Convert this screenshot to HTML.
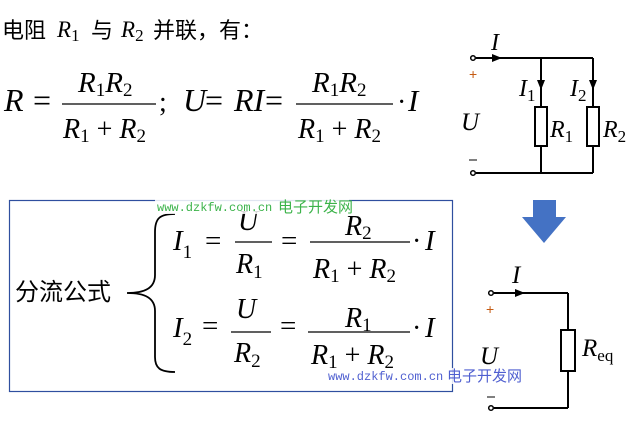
<!DOCTYPE html>
<html><head><meta charset="utf-8"><style>
html,body{margin:0;padding:0;background:#fff;width:633px;height:421px;overflow:hidden}
svg{display:block}
.s{font-family:"Liberation Serif",serif;font-style:italic;fill:#000}
.n{font-family:"Liberation Serif",serif;fill:#000}
.c{font-family:"Noto Sans CJK SC",sans-serif;fill:#000}
</style></head><body>
<svg width="633" height="421" viewBox="0 0 633 421" xmlns="http://www.w3.org/2000/svg">
<!-- title -->
<text class="c" x="2" y="38" font-size="22">电阻</text>
<text class="s" x="57" y="37" font-size="23">R<tspan class="n" font-style="normal" font-size="17" dy="4">1</tspan></text>
<text class="c" x="91" y="38" font-size="22">与</text>
<text class="s" x="121" y="37" font-size="23">R<tspan class="n" font-style="normal" font-size="17" dy="4">2</tspan></text>
<text class="c" x="153" y="38" font-size="22">并联，有：</text>

<!-- formula line 1 -->
<text class="s" x="4" y="111" font-size="32">R</text>
<text class="n" x="33" y="111" font-size="32">=</text>
<line x1="62" y1="104" x2="156" y2="104" stroke="#000" stroke-width="1.3"/>
<text class="s" x="78" y="92" font-size="29">R<tspan class="n" font-style="normal" font-size="19" dy="4">1</tspan><tspan dy="-4">R</tspan><tspan class="n" font-style="normal" font-size="19" dy="4">2</tspan></text>
<text class="s" x="63" y="138" font-size="28">R<tspan class="n" font-style="normal" font-size="19" dy="4">1</tspan><tspan class="n" font-style="normal" dy="-4"> + </tspan>R<tspan class="n" font-style="normal" font-size="19" dy="4">2</tspan></text>
<text class="n" x="159" y="111" font-size="28">;</text>
<text class="s" x="183" y="111" font-size="32">U</text>
<text class="n" x="205" y="111" font-size="32">=</text>
<text class="s" x="234" y="111" font-size="32">RI</text>
<text class="n" x="265" y="111" font-size="32">=</text>
<line x1="296" y1="104" x2="393" y2="104" stroke="#000" stroke-width="1.3"/>
<text class="s" x="312" y="92" font-size="29">R<tspan class="n" font-style="normal" font-size="19" dy="4">1</tspan><tspan dy="-4">R</tspan><tspan class="n" font-style="normal" font-size="19" dy="4">2</tspan></text>
<text class="s" x="298" y="138" font-size="28">R<tspan class="n" font-style="normal" font-size="19" dy="4">1</tspan><tspan class="n" font-style="normal" dy="-4"> + </tspan>R<tspan class="n" font-style="normal" font-size="19" dy="4">2</tspan></text>
<text class="n" x="397" y="111" font-size="28">·</text>
<text class="s" x="408" y="111" font-size="31">I</text>

<!-- top circuit -->
<g stroke="#000" stroke-width="2" fill="none">
<line x1="476" y1="58" x2="593" y2="58"/>
<line x1="541" y1="58" x2="541" y2="107"/>
<line x1="593" y1="58" x2="593" y2="107"/>
<rect x="535" y="107" width="12" height="39"/>
<rect x="587" y="107" width="12" height="39"/>
<line x1="541" y1="146" x2="541" y2="173"/>
<line x1="593" y1="146" x2="593" y2="173"/>
<line x1="476" y1="173" x2="593" y2="173"/>
<circle cx="473" cy="58" r="2.3" stroke-width="1.5"/>
<circle cx="473" cy="173" r="2.3" stroke-width="1.5"/>
</g>
<polygon points="492,54 502,58 492,62" fill="#000"/>
<polygon points="537,80 541,90 545,80" fill="#000"/>
<polygon points="589,80 593,90 597,80" fill="#000"/>
<text class="s" x="491" y="50" font-size="24">I</text>
<text class="s" x="519" y="96" font-size="24">I<tspan class="n" font-style="normal" font-size="17" dy="5">1</tspan></text>
<text class="s" x="570" y="96" font-size="24">I<tspan class="n" font-style="normal" font-size="17" dy="5">2</tspan></text>
<text class="s" x="550" y="137" font-size="24">R<tspan class="n" font-style="normal" font-size="17" dy="5">1</tspan></text>
<text class="s" x="603" y="137" font-size="24">R<tspan class="n" font-style="normal" font-size="17" dy="5">2</tspan></text>
<text x="469" y="79" font-size="14" fill="#c55a11" font-family="Liberation Sans,sans-serif">+</text>
<text class="s" x="461" y="130" font-size="25">U</text>
<line x1="469" y1="160" x2="477" y2="160" stroke="#000" stroke-width="1"/>

<!-- blue arrow -->
<polygon points="533,200 556,200 556,217 566,217 544,243 522,217 533,217" fill="#4472c4"/>

<!-- bottom circuit -->
<g stroke="#000" stroke-width="2" fill="none">
<line x1="494" y1="293" x2="568" y2="293"/>
<line x1="568" y1="293" x2="568" y2="330"/>
<rect x="561" y="330" width="14" height="41"/>
<line x1="568" y1="371" x2="568" y2="408"/>
<line x1="494" y1="408" x2="568" y2="408"/>
<circle cx="491" cy="293" r="2.3" stroke-width="1.5"/>
<circle cx="491" cy="408" r="2.3" stroke-width="1.5"/>
</g>
<polygon points="515,289 525,293 515,297" fill="#000"/>
<text class="s" x="512" y="283" font-size="25">I</text>
<text x="486" y="314" font-size="14" fill="#c55a11" font-family="Liberation Sans,sans-serif">+</text>
<text class="s" x="480" y="364" font-size="25">U</text>
<line x1="487" y1="397" x2="495" y2="397" stroke="#000" stroke-width="1"/>
<text class="s" x="582" y="356" font-size="25">R<tspan class="n" font-style="normal" font-size="17" dy="5">eq</tspan></text>

<!-- box -->
<rect x="9.5" y="200.5" width="443" height="191" fill="none" stroke="#2f4f9f" stroke-width="1.2"/>
<text class="c" x="15" y="300" font-size="24">分流公式</text>
<path d="M175,214 C160,214 155,218 155,232 L155,275 C155,288 145,293 127,293 C145,293 155,298 155,311 L155,357 C155,368 160,372 175,372" fill="none" stroke="#000" stroke-width="1.8"/>

<!-- row 1 -->
<text class="s" x="173" y="250" font-size="29">I<tspan class="n" font-style="normal" font-size="19" dy="8">1</tspan></text>
<text class="n" x="205" y="250" font-size="29">=</text>
<line x1="235" y1="242" x2="272" y2="242" stroke="#000" stroke-width="1.3"/>
<text class="s" x="238" y="230" font-size="28">U</text>
<text class="s" x="236" y="273" font-size="28">R<tspan class="n" font-style="normal" font-size="19" dy="5">1</tspan></text>
<text class="n" x="281" y="250" font-size="29">=</text>
<line x1="310" y1="242" x2="410" y2="242" stroke="#000" stroke-width="1.3"/>
<text class="s" x="345" y="235" font-size="28">R<tspan class="n" font-style="normal" font-size="19" dy="4">2</tspan></text>
<text class="s" x="313" y="278" font-size="28">R<tspan class="n" font-style="normal" font-size="19" dy="4">1</tspan><tspan class="n" font-style="normal" dy="-4"> + </tspan>R<tspan class="n" font-style="normal" font-size="19" dy="4">2</tspan></text>
<text class="n" x="412" y="250" font-size="28">·</text>
<text class="s" x="425" y="250" font-size="29">I</text>

<!-- row 2 -->
<text class="s" x="173" y="337" font-size="29">I<tspan class="n" font-style="normal" font-size="19" dy="8">2</tspan></text>
<text class="n" x="202" y="335" font-size="29">=</text>
<line x1="231" y1="332" x2="271" y2="332" stroke="#000" stroke-width="1.3"/>
<text class="s" x="236" y="318" font-size="28">U</text>
<text class="s" x="234" y="362" font-size="28">R<tspan class="n" font-style="normal" font-size="19" dy="5">2</tspan></text>
<text class="n" x="280" y="335" font-size="29">=</text>
<line x1="308" y1="332" x2="410" y2="332" stroke="#000" stroke-width="1.3"/>
<text class="s" x="345" y="327" font-size="28">R<tspan class="n" font-style="normal" font-size="19" dy="4">1</tspan></text>
<text class="s" x="311" y="364" font-size="28">R<tspan class="n" font-style="normal" font-size="19" dy="4">1</tspan><tspan class="n" font-style="normal" dy="-4"> + </tspan>R<tspan class="n" font-style="normal" font-size="19" dy="4">2</tspan></text>
<text class="n" x="412" y="337" font-size="28">·</text>
<text class="s" x="425" y="337" font-size="29">I</text>

<!-- watermarks -->
<rect x="155" y="199" width="194" height="15" fill="#fff" opacity="0.85"/>
<text x="157" y="211" font-size="12" fill="#3cb34a" font-family="Liberation Mono,monospace">www.dzkfw.com.cn</text>
<text x="278" y="212" font-size="15" fill="#3cb34a" font-family="Noto Sans CJK SC,sans-serif">电子开发网</text>
<rect x="326" y="368" width="196" height="16" fill="#fff" opacity="0.85"/>
<text x="328" y="380" font-size="12" fill="#4f5fd0" font-family="Liberation Mono,monospace">www.dzkfw.com.cn</text>
<text x="447" y="381" font-size="15" fill="#4f5fd0" font-family="Noto Sans CJK SC,sans-serif">电子开发网</text>
</svg>
</body></html>
